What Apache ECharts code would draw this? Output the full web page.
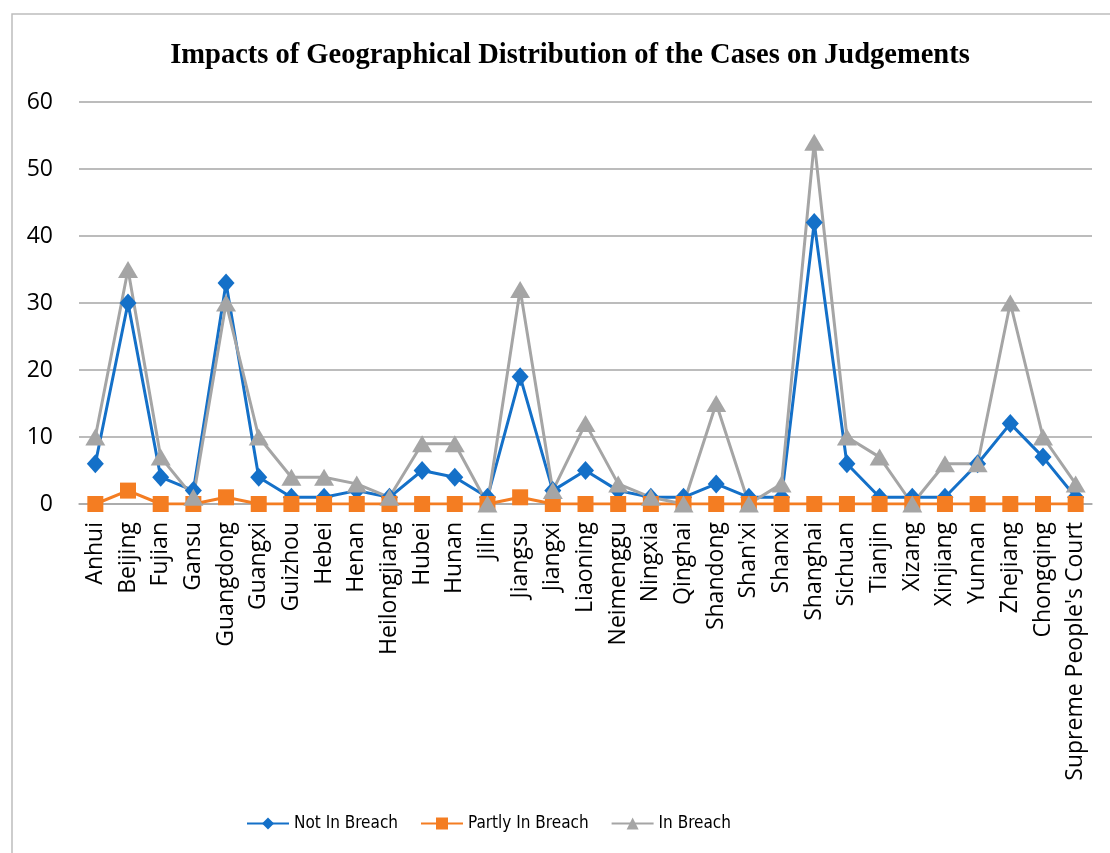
<!DOCTYPE html>
<html>
<head>
<meta charset="utf-8">
<script src="https://cdn.jsdelivr.net/npm/echarts@6/dist/echarts.min.js"></script>
<style>
  html, body { margin: 0; padding: 0; background: #ffffff; }
  #chart { width: 1110px; height: 853px; }
</style>
</head>
<body>
<div id="chart"></div>
<script>
// Regions (provinces plus the Supreme People's Court)
const categories = [
  'Anhui', 'Beijing', 'Fujian', 'Gansu', 'Guangdong', 'Guangxi', 'Guizhou', 'Hebei',
  'Henan', 'Heilongjiang', 'Hubei', 'Hunan', 'Jilin', 'Jiangsu', 'Jiangxi', 'Liaoning',
  'Neimenggu', 'Ningxia', 'Qinghai', 'Shandong', "Shan'xi", 'Shanxi', 'Shanghai',
  'Sichuan', 'Tianjin', 'Xizang', 'Xinjiang', 'Yunnan', 'Zhejiang', 'Chongqing',
  "Supreme People's Court"
];

// Number of judgements per outcome
const notInBreach = [6, 30, 4, 2, 33, 4, 1, 1, 2, 1, 5, 4, 1, 19, 2, 5, 2, 1, 1, 3, 1, 1, 42, 6, 1, 1, 1, 6, 12, 7, 1];
const partlyInBreach = [0, 2, 0, 0, 1, 0, 0, 0, 0, 0, 0, 0, 0, 1, 0, 0, 0, 0, 0, 0, 0, 0, 0, 0, 0, 0, 0, 0, 0, 0, 0];
const inBreach = [10, 35, 7, 1, 30, 10, 4, 4, 3, 1, 9, 9, 0, 32, 2, 12, 3, 1, 0, 15, 0, 3, 54, 10, 7, 0, 6, 6, 30, 10, 3];

const yTicks = { min: 0, max: 60, interval: 10 };

const chart = echarts.init(document.getElementById('chart'), null, { renderer: 'canvas' });

const labelFont = 'Open Sans';

function lineSeries(name, data, color, symbol, size) {
  return {
    name: name,
    type: 'line',
    data: data,
    symbol: symbol,
    symbolSize: size,
    showAllSymbol: true,
    lineStyle: { color: color, width: 3 },
    itemStyle: { color: color },
    emphasis: { disabled: true },
    animation: false
  };
}

chart.setOption({
  backgroundColor: '#ffffff',
  animation: false,
  title: {
    text: 'Impacts of Geographical Distribution of the Cases on Judgements',
    left: 565,
    top: 36,
    textAlign: 'center',
    textStyle: {
      fontFamily: 'Liberation Serif',
      fontWeight: 'bold',
      fontSize: 28.5,
      color: '#000000'
    }
  },
  graphic: [{
    type: 'rect',
    silent: true,
    shape: { x: 12, y: 14, width: 1200, height: 1000 },
    style: { fill: 'none', stroke: '#bdbdbd', lineWidth: 1.5 }
  }],
  legend: {
    left: 241,
    top: 810,
    itemWidth: 42,
    itemHeight: 15,
    itemGap: 22,
    textStyle: {
      fontFamily: "'DejaVu Sans Condensed', 'Open Sans'",
      fontSize: 17,
      color: '#000000'
    },
    data: ['Not In Breach', 'Partly In Breach', 'In Breach']
  },
  grid: {
    left: 79,
    right: 18,
    top: 102,
    bottom: 349,
    containLabel: false
  },
  xAxis: {
    type: 'category',
    data: categories,
    boundaryGap: true,
    axisLine: { show: true, lineStyle: { color: '#a6a6a6', width: 1.5 } },
    axisTick: { show: false },
    axisLabel: {
      interval: 0,
      rotate: 90,
      margin: 18,
      fontFamily: labelFont,
      fontSize: 23,
      color: '#000000'
    }
  },
  yAxis: {
    type: 'value',
    min: yTicks.min,
    max: yTicks.max,
    interval: yTicks.interval,
    axisLine: { show: false },
    axisTick: { show: false },
    splitLine: { lineStyle: { color: '#a6a6a6', width: 1.5 } },
    axisLabel: {
      margin: 26,
      fontFamily: labelFont,
      fontSize: 23,
      color: '#000000'
    }
  },
  series: [
    lineSeries('Not In Breach', notInBreach, '#1470c8', 'diamond', [17, 19]),
    lineSeries('Partly In Breach', partlyInBreach, '#f47d22', 'rect', 16),
    lineSeries('In Breach', inBreach, '#a5a5a5', 'triangle', [20, 17])
  ]
});
</script>
</body>
</html>
